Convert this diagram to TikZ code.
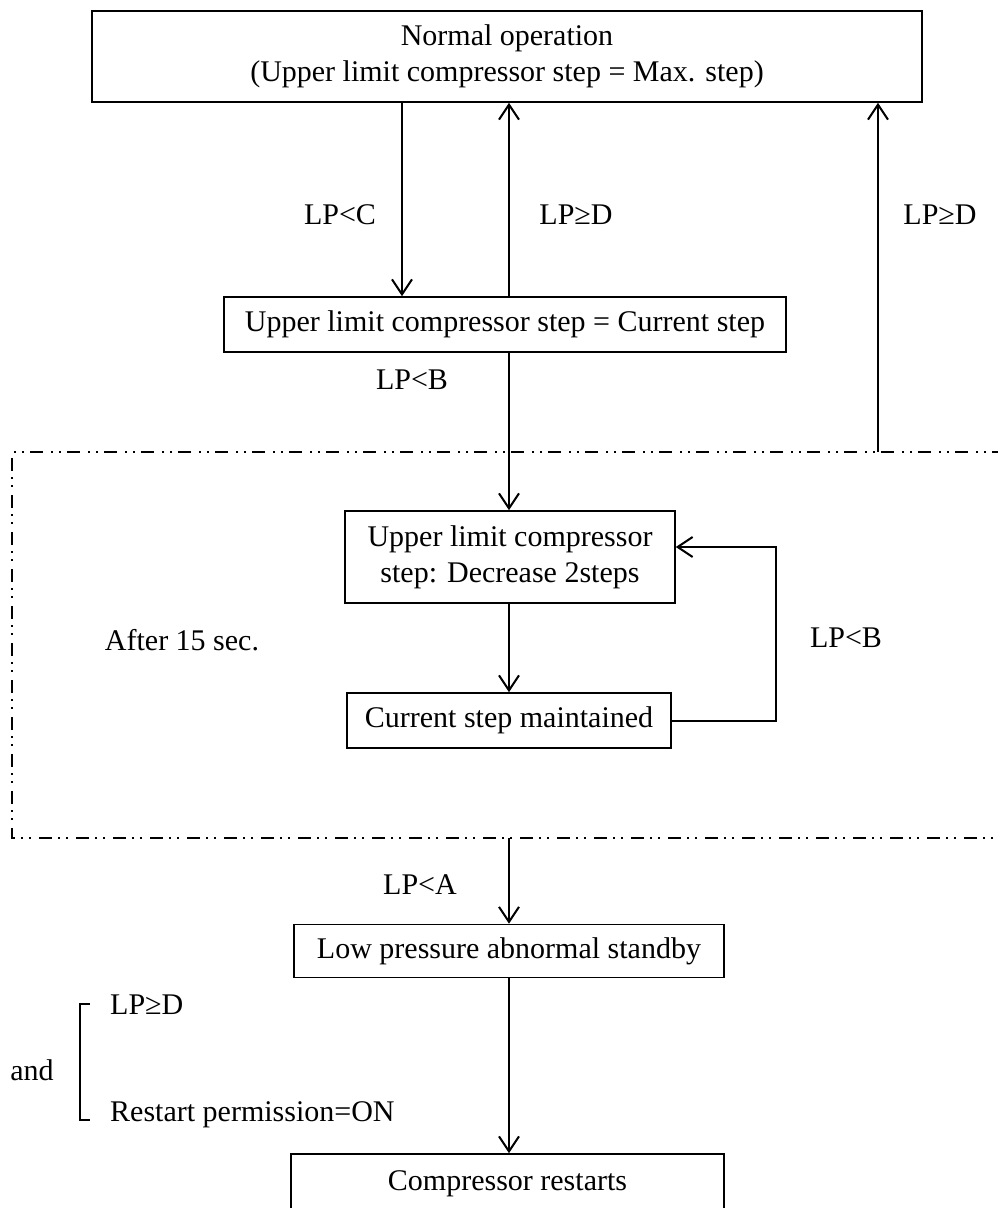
\documentclass[tikz,border=0pt]{standalone}
\usepackage{fontspec}
\setmainfont{Liberation Serif}
\usetikzlibrary{arrows.meta}

\tikzset{
    box/.style={draw, line width=1.6pt, inner sep=0pt, align=center},
    arr/.style={line width=2pt, -{Straight Barb[length=15pt, width=20pt, line width=2pt]}},
    frame/.style={line width=1.8pt, dash pattern=on 13pt off 6pt on 2pt off 6pt on 2pt off 8pt},
}

\begin{document}
\begin{tikzpicture}[x=1pt, y=-1pt, font=\fontsize{30}{36}\selectfont]
    \useasboundingbox (0,0) rectangle (997,1208);

    \coordinate (colL) at (402,0);
    \coordinate (colM) at (509,0);
    \coordinate (loopR) at (776,0);
    \coordinate (frTop) at (878,452);
    \coordinate (frBot) at (509,838);

    \node[box, minimum width=830pt, minimum height=91pt] (normal) at (507,56.5)
        {Normal operation\\(Upper limit compressor step = Max. step)};
    \node[box, minimum width=562pt, minimum height=55pt] (cur) at (505,324.5)
        {Upper limit compressor step = Current step};
    \node[box, minimum width=330pt, minimum height=92pt] (dec) at (510,557)
        {Upper limit compressor\\step: Decrease 2steps};
    \node[box, minimum width=324pt, minimum height=55pt] (keep) at (509,720.5)
        {Current step maintained};
    \node[box, minimum width=430pt, minimum height=53pt] (standby) at (509,951)
        {Low pressure abnormal standby};
    \node[box, minimum width=433pt, minimum height=60pt] (restart) at (507.5,1184)
        {Compressor restarts};

    \draw[frame] (1005,452) -- (12,452) -- (12,838) -- (1005,838);

    \draw[arr] (normal.south -| colL) -- (cur.north -| colL);
    \draw[arr] (cur.north -| colM) -- (normal.south -| colM);
    \draw[arr] (frTop) -- (normal.south -| frTop);
    \draw[arr] (cur.south -| colM) -- (dec.north -| colM);
    \draw[arr] (dec.south -| colM) -- (keep.north -| colM);
    \draw[arr] (keep.east) -- (keep.east -| loopR) -- ([yshift=10pt]dec.east -| loopR)
        -- ([yshift=10pt]dec.east);
    \draw[arr] (frBot) -- (standby.north -| frBot);
    \draw[arr] (standby.south -| colM) -- (restart.north -| colM);

    \node (lpC) at (340,215) {LP<C};
    \node (lpD1) at (576,215) {LP≥D};
    \node (lpD2) at (940,215) {LP≥D};
    \node (lpB1) at (412,380) {LP<B};
    \node (wait) at (182,640) {After 15 sec.};
    \node (lpB2) at (846,638) {LP<B};
    \node (lpA) at (420,885) {LP<A};

    \draw[line width=2pt] (90,1004) -- (80,1004) -- (80,1120) -- (90,1120);
    \node[anchor=west, inner sep=0pt] (lpD3) at (110,1005) {LP≥D};
    \node[anchor=west, inner sep=0pt] (perm) at (110,1115) {Restart permission=ON};
    \node (andw) at (32,1070) {and};
\end{tikzpicture}
\end{document}
